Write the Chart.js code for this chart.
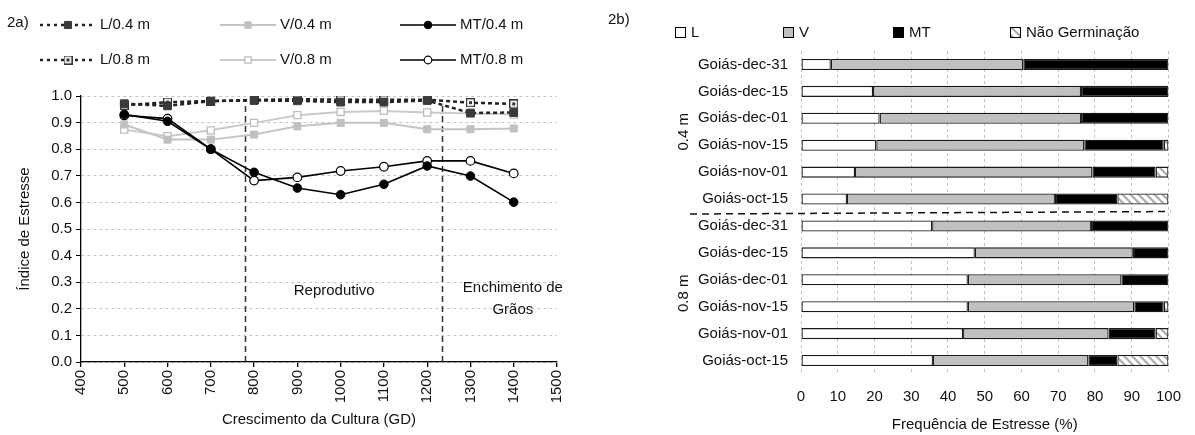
<!DOCTYPE html>
<html>
<head>
<meta charset="utf-8">
<script src="https://cdn.jsdelivr.net/npm/chart.js@4.4.1/dist/chart.umd.min.js"></script>
<style>
  html, body { margin: 0; padding: 0; background: #fff; }
  #wrap { position: relative; width: 1195px; height: 435px; overflow: hidden; }
  #left { position: absolute; left: 0; top: 0; }
  #right { position: absolute; left: 600px; top: 0; }
</style>
</head>
<body>
<div id="wrap">
  <canvas id="left" width="600" height="435"></canvas>
  <canvas id="right" width="595" height="435"></canvas>
</div>
<script>
// ---- 2a) stress index by crop growth (GD) ----
const gd = [500, 600, 700, 800, 900, 1000, 1100, 1200, 1300, 1400];
const l04 = [0.971, 0.963, 0.981, 0.983, 0.982, 0.977, 0.977, 0.983, 0.936, 0.938];
const l08 = [0.965, 0.977, 0.981, 0.985, 0.988, 0.986, 0.986, 0.986, 0.975, 0.970];
const v04 = [0.893, 0.836, 0.836, 0.855, 0.886, 0.899, 0.899, 0.875, 0.875, 0.878];
const v08 = [0.874, 0.849, 0.871, 0.899, 0.928, 0.940, 0.944, 0.938, 0.934, 0.930];
const mt04 = [0.931, 0.905, 0.800, 0.713, 0.654, 0.629, 0.668, 0.737, 0.699, 0.601];
const mt08 = [0.927, 0.915, 0.800, 0.682, 0.694, 0.718, 0.734, 0.756, 0.756, 0.709];
const xTicks = [400, 500, 600, 700, 800, 900, 1000, 1100, 1200, 1300, 1400, 1500];
const yTicks = [0, 0.1, 0.2, 0.3, 0.4, 0.5, 0.6, 0.7, 0.8, 0.9, 1.0];
const phaseBounds = [780, 1235];

// ---- 2b) stress frequency (%) ----
const categories = ['Goiás-dec-31', 'Goiás-dec-15', 'Goiás-dec-01', 'Goiás-nov-15', 'Goiás-nov-01', 'Goiás-oct-15',
                    'Goiás-dec-31', 'Goiás-dec-15', 'Goiás-dec-01', 'Goiás-nov-15', 'Goiás-nov-01', 'Goiás-oct-15'];
const groups = ['0.4 m', '0.8 m'];
const freqL  = [8.1, 19.6, 21.4, 20.5, 14.7, 12.5, 35.7, 47.3, 45.4, 45.4, 44.1, 35.9];
const freqV  = [52.4, 56.6, 54.8, 56.6, 64.6, 56.6, 43.2, 43.0, 41.8, 45.3, 39.6, 42.3];
const freqMT = [39.5, 23.8, 23.8, 21.6, 17.2, 17.0, 21.1, 9.7, 12.8, 8.0, 12.8, 7.9];
const freqNG = [0, 0, 0, 1.3, 3.5, 13.9, 0, 0, 0, 1.3, 3.5, 13.9];
const freqTicks = [0, 10, 20, 30, 40, 50, 60, 70, 80, 90, 100];

const FONT = '"Liberation Sans", Arial, sans-serif';
const TEXT = '#111';
Chart.defaults.font.family = FONT;
Chart.defaults.font.size = 15;
Chart.defaults.color = TEXT;

function pts(vals) {
  return gd.map((x, i) => ({ x: x, y: vals[i] }));
}

// open square with a dot, used for L/0.8 m
function dottedSquare() {
  const c = document.createElement('canvas');
  c.width = 9; c.height = 9;
  const g = c.getContext('2d');
  g.fillStyle = '#fff';
  g.fillRect(0, 0, 9, 9);
  g.strokeStyle = '#333';
  g.lineWidth = 1.2;
  g.strokeRect(0.6, 0.6, 7.8, 7.8);
  g.fillStyle = '#333';
  g.fillRect(3, 3, 3, 3);
  return c;
}

// legend slots [column, row] and positions for the left panel
const legCols = [40, 220, 400];
const legRows = [25, 60];

const leftLegend = {
  id: 'leftLegend',
  afterDraw(chart) {
    const ctx = chart.ctx;
    ctx.save();
    ctx.font = '15px ' + FONT;
    ctx.textBaseline = 'middle';
    ctx.fillStyle = TEXT;
    ctx.fillText('2a)', 7, 23);
    chart.data.datasets.forEach(ds => {
      const x0 = legCols[ds.slot[0]];
      const y = legRows[ds.slot[1]];
      ctx.strokeStyle = ds.borderColor;
      ctx.lineWidth = ds.borderWidth;
      ctx.setLineDash(ds.slot[0] === 0 ? [3, 4] : []);
      ctx.beginPath();
      ctx.moveTo(x0, y);
      ctx.lineTo(x0 + 56, y);
      ctx.stroke();
      ctx.setLineDash([]);
      ctx.fillStyle = ds.pointBackgroundColor;
      ctx.strokeStyle = ds.pointBorderColor;
      ctx.lineWidth = ds.pointBorderWidth;
      Chart.helpers.drawPoint(ctx, {
        pointStyle: ds.pointStyle, radius: ds.pointRadius - 0.5,
        borderWidth: ds.pointBorderWidth, rotation: 0
      }, x0 + 28, y);
      ctx.fillStyle = TEXT;
      ctx.fillText(ds.label, x0 + 60, y);
    });
    ctx.restore();
  }
};

const phases = {
  id: 'phases',
  beforeDatasetsDraw(chart) {
    const { ctx, scales: { x, y } } = chart;
    ctx.save();
    ctx.strokeStyle = '#333';
    ctx.lineWidth = 1.5;
    ctx.setLineDash([6, 4]);
    phaseBounds.forEach(b => {
      const px = Math.round(x.getPixelForValue(b)) + 0.5;
      ctx.beginPath();
      ctx.moveTo(px, y.getPixelForValue(0));
      ctx.lineTo(px, y.getPixelForValue(0.975));
      ctx.stroke();
    });
    ctx.restore();
  },
  afterDraw(chart) {
    const { ctx, scales: { x, y } } = chart;
    ctx.save();
    ctx.font = '15px ' + FONT;
    ctx.fillStyle = TEXT;
    ctx.textAlign = 'center';
    ctx.textBaseline = 'middle';
    ctx.fillText('Reprodutivo', x.getPixelForValue(985), y.getPixelForValue(0.266));
    ctx.fillText('Enchimento de', x.getPixelForValue(1398), y.getPixelForValue(0.278));
    ctx.fillText('Grãos', x.getPixelForValue(1398), y.getPixelForValue(0.195));
    ctx.restore();
  }
};

new Chart(document.getElementById('left'), {
  type: 'line',
  data: {
    datasets: [
      { label: 'L/0.4 m', data: pts(l04), slot: [0, 0],
        borderColor: '#222', borderWidth: 2.5, borderDash: [4, 3],
        pointStyle: 'rect', pointRadius: 5.5, pointBackgroundColor: '#3a3a3a',
        pointBorderColor: '#3a3a3a', pointBorderWidth: 1 },
      { label: 'L/0.8 m', data: pts(l08), slot: [0, 1],
        borderColor: '#222', borderWidth: 2.5, borderDash: [4, 3],
        pointStyle: dottedSquare(), pointRadius: 5.5, pointBackgroundColor: '#fff',
        pointBorderColor: '#333', pointBorderWidth: 1.3 },
      { label: 'MT/0.4 m', data: pts(mt04), slot: [2, 0],
        borderColor: '#000', borderWidth: 1.6,
        pointStyle: 'circle', pointRadius: 4.3, pointBackgroundColor: '#000',
        pointBorderColor: '#000', pointBorderWidth: 1 },
      { label: 'MT/0.8 m', data: pts(mt08), slot: [2, 1],
        borderColor: '#000', borderWidth: 1.6,
        pointStyle: 'circle', pointRadius: 4.3, pointBackgroundColor: '#fff',
        pointBorderColor: '#000', pointBorderWidth: 1.2 },
      { label: 'V/0.4 m', data: pts(v04), slot: [1, 0],
        borderColor: '#c4c4c4', borderWidth: 2,
        pointStyle: 'rect', pointRadius: 5, pointBackgroundColor: '#c0c0c0',
        pointBorderColor: '#c0c0c0', pointBorderWidth: 1 },
      { label: 'V/0.8 m', data: pts(v08), slot: [1, 1],
        borderColor: '#cacaca', borderWidth: 2,
        pointStyle: 'rect', pointRadius: 5, pointBackgroundColor: '#fff',
        pointBorderColor: '#bdbdbd', pointBorderWidth: 1.3 }
    ]
  },
  options: {
    responsive: false,
    animation: false,
    events: [],
    elements: { line: { tension: 0, fill: false } },
    layout: { padding: { left: 0, right: 43, top: 96, bottom: 0 } },
    plugins: { legend: { display: false }, tooltip: { enabled: false } },
    scales: {
      x: {
        type: 'linear', min: 400, max: 1500,
        afterBuildTicks: s => { s.ticks = xTicks.map(v => ({ value: v })); },
        afterFit: s => { s.height = 73; },
        grid: { drawOnChartArea: false, drawTicks: true, tickLength: 5, tickColor: '#000', lineWidth: 1.3 },
        border: { display: true, color: '#000', width: 1.3 },
        ticks: { minRotation: 90, maxRotation: 90, padding: 3, color: TEXT, font: { size: 15 },
                 callback: v => String(v) },
        title: { display: true, text: 'Crescimento da Cultura (GD)', color: TEXT,
                 font: { size: 15 }, padding: { top: 0, bottom: 6 } }
      },
      y: {
        min: 0, max: 1,
        afterBuildTicks: s => { s.ticks = yTicks.map(v => ({ value: v })); },
        afterFit: s => { s.width = 81; },
        grid: { color: '#c4c4c4', lineWidth: 1, drawTicks: true, tickLength: 5, tickColor: '#000', tickBorderDash: [] },
        border: { display: true, color: '#000', width: 1.3, dash: [3, 3] },
        ticks: { padding: 4, color: TEXT, font: { size: 15 }, callback: v => v.toFixed(1) },
        title: { display: true, text: 'Índice de Estresse', color: TEXT,
                 font: { size: 15 }, padding: { top: 16, bottom: 0 } }
      }
    }
  },
  plugins: [phases, leftLegend]
});

// ---- right panel ----
function makeHatch() {
  const c = document.createElement('canvas');
  c.width = 8; c.height = 8;
  const g = c.getContext('2d');
  g.fillStyle = '#fff';
  g.fillRect(0, 0, 8, 8);
  g.strokeStyle = '#a9a9a9';
  g.lineWidth = 2;
  g.beginPath();
  g.moveTo(-4, 4); g.lineTo(4, 12);
  g.moveTo(0, 0); g.lineTo(8, 8);
  g.moveTo(4, -4); g.lineTo(12, 4);
  g.stroke();
  return g.createPattern(c, 'repeat');
}
const hatch = makeHatch();

const legBoxX = [75, 183, 293, 410];
const legBoxY = 32;

const rightDecor = {
  id: 'rightDecor',
  afterDraw(chart) {
    const { ctx, scales: { x, y } } = chart;
    ctx.save();
    ctx.font = '15px ' + FONT;
    ctx.textBaseline = 'middle';
    ctx.fillStyle = TEXT;
    ctx.fillText('2b)', 8, 20);
    // legend
    chart.data.datasets.forEach((ds, i) => {
      const bx = legBoxX[i];
      ctx.fillStyle = ds.backgroundColor;
      ctx.fillRect(bx, legBoxY - 5, 10, 10);
      ctx.strokeStyle = '#000';
      ctx.lineWidth = 1;
      ctx.strokeRect(bx + 0.5, legBoxY - 4.5, 10, 10);
      ctx.fillStyle = TEXT;
      ctx.fillText(ds.label, bx + 16, legBoxY + 1);
    });
    // group labels
    const n = categories.length / groups.length;
    groups.forEach((g, gi) => {
      const yc = (y.getPixelForValue(gi * n) + y.getPixelForValue(gi * n + n - 1)) / 2;
      ctx.save();
      ctx.translate(84, yc);
      ctx.rotate(-Math.PI / 2);
      ctx.textAlign = 'center';
      ctx.fillStyle = TEXT;
      ctx.fillText(g, 0, 0);
      ctx.restore();
    });
    // separator between groups
    const ySep = (y.getPixelForValue(n - 1) + y.getPixelForValue(n)) / 2;
    ctx.strokeStyle = '#111';
    ctx.lineWidth = 1.5;
    ctx.setLineDash([7, 5]);
    ctx.beginPath();
    ctx.moveTo(90, ySep + 1.5);
    ctx.lineTo(x.right + 2, ySep - 1);
    ctx.stroke();
    ctx.restore();
  }
};

const barStyle = { borderColor: '#1a1a1a', borderWidth: 1.3, borderSkipped: false,
                   barPercentage: 0.41, categoryPercentage: 1 };

new Chart(document.getElementById('right'), {
  type: 'bar',
  data: {
    labels: categories,
    datasets: [
      Object.assign({ label: 'L', data: freqL, backgroundColor: '#fff' }, barStyle),
      Object.assign({ label: 'V', data: freqV, backgroundColor: '#c0c0c0' }, barStyle),
      Object.assign({ label: 'MT', data: freqMT, backgroundColor: '#000' }, barStyle),
      Object.assign({ label: 'Não Germinação', data: freqNG, backgroundColor: hatch }, barStyle)
    ]
  },
  options: {
    indexAxis: 'y',
    responsive: false,
    animation: false,
    events: [],
    layout: { padding: { left: 0, right: 16, top: 51, bottom: 0 } },
    plugins: { legend: { display: false }, tooltip: { enabled: false } },
    scales: {
      x: {
        stacked: true, min: 0, max: 100,
        afterBuildTicks: s => { s.ticks = freqTicks.map(v => ({ value: v })); },
        afterFit: s => { s.height = 61; },
        grid: { color: '#c4c4c4', lineWidth: 1, drawTicks: false },
        border: { display: false, dash: [3, 3] },
        ticks: { padding: 14, color: TEXT, font: { size: 15 } },
        title: { display: true, text: 'Frequência de Estresse (%)', color: TEXT,
                 font: { size: 15 }, padding: { top: 0, bottom: 1 } }
      },
      y: {
        stacked: true, offset: true,
        afterFit: s => { s.width = 201; },
        grid: { display: false, drawTicks: false },
        border: { display: false },
        ticks: { padding: 13, color: TEXT, font: { size: 15 }, autoSkip: false }
      }
    }
  },
  plugins: [rightDecor]
});
</script>
</body>
</html>
